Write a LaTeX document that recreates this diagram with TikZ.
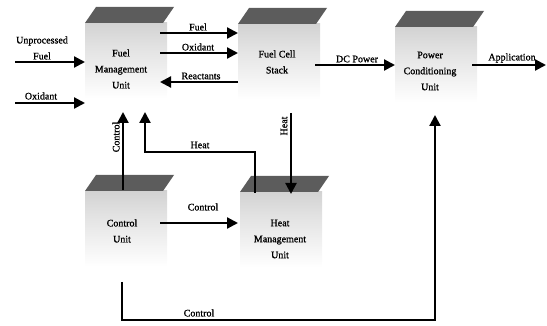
\documentclass[tikz,border=0pt]{standalone}
\usepackage{fontspec}
\setmainfont{Liberation Serif}[FakeBold=1.2]
\newfontfamily\heavy{Liberation Serif}[FakeBold=1.2]
\usetikzlibrary{arrows.meta}
% body of a block: grey under the roof, fading to white lower down
\pgfdeclareverticalshading{blockshade}{100bp}{%
  color(0bp)=(white); color(30bp)=(white); color(60bp)=(gray!22);
  color(90bp)=(gray!48); color(100bp)=(gray!52)}
\begin{document}
\begin{tikzpicture}[x=1pt,y=-1pt,
  flow/.style={line width=2.2pt,-{Triangle[length=11pt,width=11pt]}},
  lbl/.style={font=\heavy\fontsize{10}{16}\selectfont, align=center, inner sep=0pt},
  unit/.style={font=\heavy\fontsize{10}{16}\selectfont, align=center, inner sep=0pt},
  roof/.style={fill=black!64},
  body/.style={shading=blockshade, draw=none}]
\useasboundingbox (0,0) rectangle (547,326);

% blocks: slanted dark roof over a fading body
\foreach \bx/\by in {85/7, 238/8, 395/11, 85/175, 240/176}{
  \shade[body] (\bx,\by+16) rectangle (\bx+82,\by+100);
  \fill[roof] (\bx,\by+16) -- (\bx+78,\by+16) -- (\bx+89,\by) -- (\bx+11,\by) -- cycle;
}

% block captions
\node[unit] (fmu) at (121,69) {Fuel\\Management\\Unit};
\node[unit] (fcs) at (277,62) {Fuel Cell\\Stack};
\node[unit] (pcu) at (430,71) {Power\\Conditioning\\Unit};
\node[unit] (cu)  at (122,231) {Control\\Unit};
\node[unit] (hmu) at (280,239) {Heat\\Management\\Unit};

% connector end points
\coordinate (ufIn)  at (15,62);   \coordinate (ufOut) at (85,62);
\coordinate (oxIn)  at (15,103);  \coordinate (oxOut) at (85,103);
\coordinate (fA) at (160,33);     \coordinate (fB) at (238,33);
\coordinate (oA) at (160,53);     \coordinate (oB) at (238,53);
\coordinate (rA) at (238,82);     \coordinate (rB) at (160,82);
\coordinate (dcA) at (315,65);    \coordinate (dcB) at (395,65);
\coordinate (apA) at (472,65);    \coordinate (apB) at (546,65);
\coordinate (cuTop) at (123,190); \coordinate (fmuC) at (123,112);
\coordinate (hmuTop) at (255,193);\coordinate (hK1) at (255,152);
\coordinate (hK2) at (145,152);   \coordinate (fmuH) at (145,112);
\coordinate (fcsBot) at (291,113);\coordinate (hmuIn) at (291,194);
\coordinate (cuR) at (160,223);   \coordinate (hmuL) at (238,223);
\coordinate (cuBot) at (122,282); \coordinate (cK1) at (122,320);
\coordinate (cK2) at (435,320);   \coordinate (pcuBot) at (435,115);

% connectors
\draw[flow] (ufIn) -- (ufOut);
\draw[flow] (oxIn) -- (oxOut);
\draw[flow] (fA) -- (fB);
\draw[flow] (oA) -- (oB);
\draw[flow] (rA) -- (rB);
\draw[flow] (dcA) -- (dcB);
\draw[flow] (apA) -- (apB);
\draw[flow] (cuTop) -- (fmuC);
\draw[flow] (hmuTop) -- (hK1) -- (hK2) -- (fmuH);
\draw[flow] (fcsBot) -- (hmuIn);
\draw[flow] (cuR) -- (hmuL);
\draw[flow] (cuBot) -- (cK1) -- (cK2) -- (pcuBot);

% connector labels
\node[lbl] (lUF) at (42,48) {Unprocessed\\Fuel};
\node[lbl] (lOx) at (41,96) {Oxidant};
\node[lbl] (lF)  at (198,27) {Fuel};
\node[lbl] (lO)  at (198,47) {Oxidant};
\node[lbl] (lR)  at (201,76) {Reactants};
\node[lbl] (lDC) at (357,59) {DC Power};
\node[lbl] (lAp) at (512,58) {Application};
\node[lbl, rotate=90] (lC1) at (116,137) {Control};
\node[lbl] (lH1) at (200,145) {Heat};
\node[lbl, rotate=90] (lH2) at (284,126) {Heat};
\node[lbl] (lC2) at (203,207) {Control};
\node[lbl] (lC3) at (199,313) {Control};
\end{tikzpicture}
\end{document}
